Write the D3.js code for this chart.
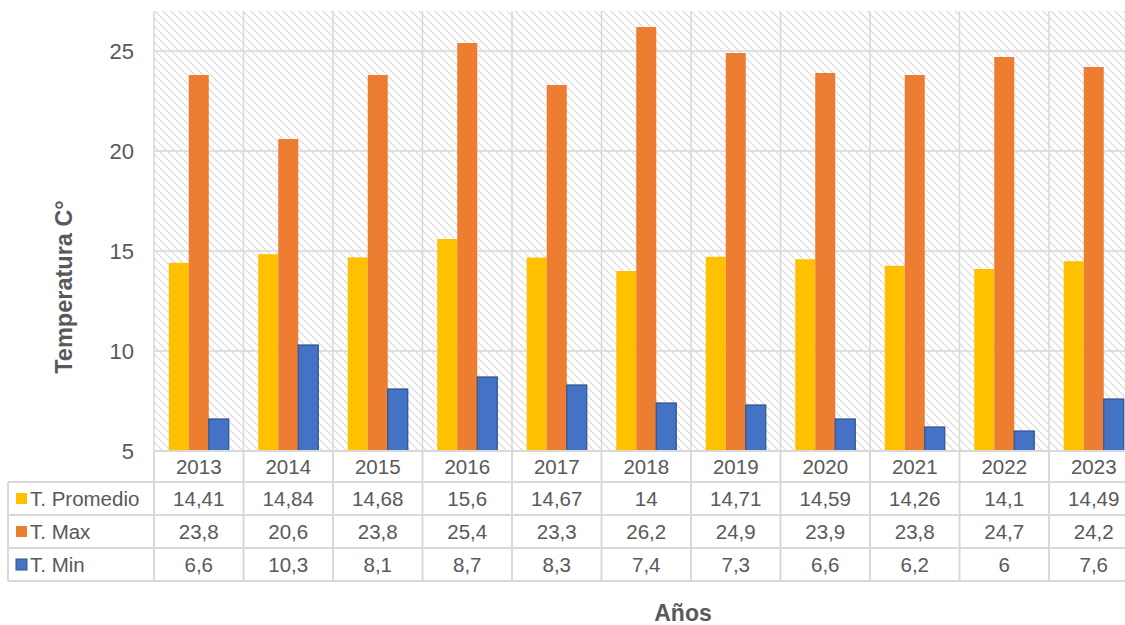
<!DOCTYPE html>
<html>
<head>
<meta charset="utf-8">
<script src="https://cdn.jsdelivr.net/npm/d3@7"></script>
<style>
  body { margin: 0; background: #fff; }
  text { font-family: "Liberation Sans", Arial, sans-serif; fill: #595959; }
</style>
</head>
<body>
<div id="container"></div>
<script>
// data
const years = ["2013","2014","2015","2016","2017","2018","2019","2020","2021","2022","2023"];
const tPromedio = [14.41, 14.84, 14.68, 15.6, 14.67, 14, 14.71, 14.59, 14.26, 14.1, 14.49];
const tMax = [23.8, 20.6, 23.8, 25.4, 23.3, 26.2, 24.9, 23.9, 23.8, 24.7, 24.2];
const tMin = [6.6, 10.3, 8.1, 8.7, 8.3, 7.4, 7.3, 6.6, 6.2, 6, 7.6];
const seriesNames = ["T. Promedio", "T. Max", "T. Min"];
const yTicks = [5, 10, 15, 20, 25];

const colors = ["#FFC000", "#ED7D31", "#4472C4"];
const strokes = ["none", "none", "#2F528F"];
const allSeries = [tPromedio, tMax, tMin];

let w = 1125, h = 625;
let plotLeft = 154, plotTop = 11, plotBottom = 451;
let catW = 89.5;
let plotRight = plotLeft + catW * years.length;
let rowH = 33;

let svg = d3.select("#container").append("svg")
    .attr("width", w)
    .attr("height", h);

// hatch pattern
let defs = svg.append("defs");
let pat = defs.append("pattern")
    .attr("id", "hatch")
    .attr("patternUnits", "userSpaceOnUse")
    .attr("width", 8).attr("height", 8);
pat.append("path")
    .attr("d", "M-2,-2 L10,10 M-2,6 L2,10 M6,-2 L10,2")
    .attr("stroke", "#d9d9d9")
    .attr("stroke-width", 1.2);

let x = d3.scaleBand().domain(years).range([plotLeft, plotRight]);
let y = d3.scaleLinear().domain([5, 27]).range([plotBottom, plotTop]);
let xs = d3.scaleBand().domain(seriesNames).range([0, 60]);

svg.append("rect")
    .attr("x", plotLeft).attr("y", plotTop)
    .attr("width", plotRight - plotLeft).attr("height", plotBottom - plotTop)
    .attr("fill", "url(#hatch)");

// gridlines
svg.append("g").selectAll("line").data(yTicks.slice(1)).enter()
  .append("line")
    .attr("x1", plotLeft).attr("x2", plotRight)
    .attr("y1", d => y(d)).attr("y2", d => y(d))
    .attr("stroke", "#d9d9d9").attr("stroke-width", 1.5);

svg.append("g").selectAll("line").data(years).enter()
  .append("line")
    .attr("x1", d => x(d)).attr("x2", d => x(d))
    .attr("y1", plotTop).attr("y2", plotBottom)
    .attr("stroke", "#d9d9d9").attr("stroke-width", 1.5);

// y tick labels
svg.append("g").selectAll("text").data(yTicks).enter()
  .append("text")
    .attr("x", 134)
    .attr("y", d => y(d))
    .attr("dy", "0.35em")
    .attr("text-anchor", "end")
    .attr("font-size", 22)
    .text(d => d);

// bars
allSeries.forEach(function(vals, si) {
  svg.append("g").selectAll("rect").data(vals).enter()
    .append("rect")
      .attr("x", (d, i) => x(years[i]) + (catW - 60) / 2 + xs(seriesNames[si]))
      .attr("y", d => y(d))
      .attr("width", xs.bandwidth())
      .attr("height", d => plotBottom - y(d))
      .attr("fill", colors[si])
      .attr("stroke", strokes[si])
      .attr("stroke-width", 1.2);
});

// data table
let tbl = svg.append("g");
let gridC = "#d9d9d9";
tbl.append("line").attr("x1", plotLeft).attr("x2", plotRight).attr("y1", plotBottom).attr("y2", plotBottom)
    .attr("stroke", gridC).attr("stroke-width", 2);
for (let r = 1; r <= 4; r++) {
  tbl.append("line")
    .attr("x1", 8).attr("x2", plotRight)
    .attr("y1", plotBottom + rowH * r - 2).attr("y2", plotBottom + rowH * r - 2)
    .attr("stroke", gridC).attr("stroke-width", 2);
}
tbl.append("line").attr("x1", 8).attr("x2", 8)
    .attr("y1", plotBottom + rowH - 2).attr("y2", plotBottom + rowH * 4 - 2)
    .attr("stroke", gridC).attr("stroke-width", 2);
tbl.selectAll(".vl").data(years).enter()
  .append("line")
    .attr("x1", d => x(d)).attr("x2", d => x(d))
    .attr("y1", plotBottom).attr("y2", plotBottom + rowH * 4 - 2)
    .attr("stroke", gridC).attr("stroke-width", 2);

tbl.selectAll(".yr").data(years).enter()
  .append("text")
    .attr("x", d => x(d) + catW / 2)
    .attr("y", plotBottom + rowH / 2 - 1)
    .attr("dy", "0.35em")
    .attr("text-anchor", "middle")
    .attr("font-size", 20.5)
    .text(d => d);

allSeries.forEach(function(vals, si) {
  let cy = plotBottom + rowH * (si + 1) + rowH / 2 - 2;
  tbl.append("rect")
    .attr("x", 16).attr("y", cy - 5.5)
    .attr("width", 11).attr("height", 11)
    .attr("fill", colors[si])
    .attr("stroke", strokes[si]).attr("stroke-width", 1);
  tbl.append("text")
    .attr("x", 30).attr("y", cy)
    .attr("dy", "0.35em")
    .attr("font-size", 20.5)
    .text(seriesNames[si]);
  tbl.selectAll(".v" + si).data(vals).enter()
    .append("text")
      .attr("x", (d, i) => x(years[i]) + catW / 2)
      .attr("y", cy)
      .attr("dy", "0.35em")
      .attr("text-anchor", "middle")
      .attr("font-size", 20.5)
      .text(d => String(d).replace(".", ","));
});

// axis titles
svg.append("text")
    .attr("transform", "translate(72,287) rotate(-90)")
    .attr("text-anchor", "middle")
    .attr("font-size", 23.5)
    .attr("font-weight", "bold")
    .text("Temperatura C°");

svg.append("text")
    .attr("x", 683).attr("y", 621)
    .attr("text-anchor", "middle")
    .attr("font-size", 23)
    .attr("font-weight", "bold")
    .text("Años");
</script>
</body>
</html>
